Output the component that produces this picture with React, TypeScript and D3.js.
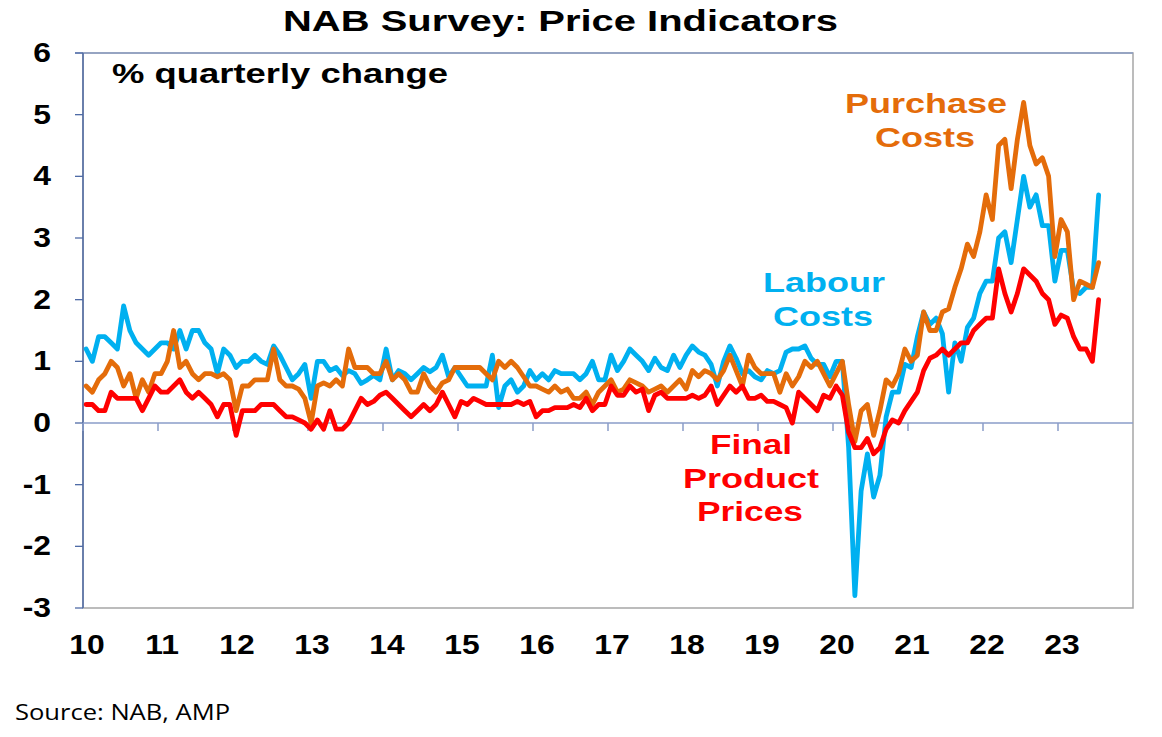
import React from 'react';
import * as d3 from 'd3';

// Monthly observations, Jan 2010 .. Jul 2023 (% quarterly change)
const START_YEAR = 2010;

const labourCosts: number[] = [
  1.2, 1.0, 1.4, 1.4, 1.3, 1.2, 1.9, 1.5, 1.3, 1.2,
  1.1, 1.2, 1.3, 1.3, 1.2, 1.5, 1.2, 1.5, 1.5, 1.3,
  1.2, 0.8, 1.2, 1.1, 0.9, 1.0, 1.0, 1.1, 1.0, 0.95,
  1.25, 1.1, 0.9, 0.7, 0.8, 0.95, 0.4, 1.0, 1.0, 0.85,
  0.9, 0.77, 0.85, 0.8, 0.64, 0.7, 0.77, 0.7, 1.2, 0.7,
  0.85, 0.8, 0.7, 0.8, 0.9, 0.83, 0.9, 1.1, 0.75, 0.9,
  0.75, 0.6, 0.6, 0.6, 0.6, 1.1, 0.25, 0.6, 0.7, 0.5,
  0.6, 0.85, 0.7, 0.8, 0.7, 0.85, 0.8, 0.8, 0.8, 0.7,
  0.8, 1.0, 0.7, 0.7, 1.1, 0.85, 1.0, 1.2, 1.1, 1.0,
  0.85, 1.05, 0.9, 0.85, 1.1, 0.9, 1.1, 1.25, 1.15, 1.1,
  0.95, 0.6, 1.0, 1.25, 1.05, 0.8, 0.85, 0.75, 0.7, 0.85,
  0.8, 0.85, 1.15, 1.2, 1.2, 1.25, 1.05, 0.95, 0.95, 0.75,
  1.0, 1.0, -0.4, -2.8, -1.1, -0.5, -1.2, -0.85, 0.1, 0.5,
  0.5, 0.95, 0.9, 1.4, 1.8, 1.6, 1.7, 1.45, 0.5, 1.3,
  1.0, 1.55, 1.7, 2.1, 2.3, 2.3, 3.0, 3.1, 2.6, 3.3,
  4.0, 3.5, 3.7, 3.2, 3.2, 2.3, 2.8, 2.8, 2.15, 2.1,
  2.2, 2.2, 3.7,
];

const purchaseCosts: number[] = [
  0.6, 0.5, 0.7, 0.8, 1.0, 0.9, 0.6, 0.8, 0.4, 0.7,
  0.5, 0.8, 0.8, 1.0, 1.5, 0.9, 1.0, 0.8, 0.7, 0.8,
  0.8, 0.75, 0.8, 0.7, 0.2, 0.6, 0.6, 0.7, 0.7, 0.7,
  1.2, 0.7, 0.6, 0.6, 0.55, 0.4, 0.0, 0.6, 0.65, 0.6,
  0.7, 0.6, 1.2, 0.9, 0.9, 0.9, 0.8, 0.8, 1.0, 0.7,
  0.8, 0.7, 0.5, 0.5, 0.8, 0.6, 0.5, 0.65, 0.7, 0.9,
  0.9, 0.9, 0.9, 0.9, 0.8, 0.7, 1.0, 0.9, 1.0, 0.9,
  0.75, 0.6, 0.6, 0.55, 0.5, 0.6, 0.5, 0.55, 0.4, 0.4,
  0.5, 0.3, 0.5, 0.6, 0.7, 0.5, 0.55, 0.7, 0.65, 0.6,
  0.5, 0.55, 0.6, 0.5, 0.6, 0.7, 0.55, 0.85, 0.75, 0.85,
  0.8, 0.7, 0.85, 1.1, 0.85, 0.6, 1.1, 0.9, 0.8, 0.8,
  0.8, 0.5, 0.8, 0.6, 0.75, 1.0, 0.9, 1.0, 0.8, 0.6,
  0.8, 1.0, 0.3, -0.3, 0.2, 0.3, -0.2, 0.2, 0.7, 0.6,
  0.8, 1.2, 1.0, 1.1, 1.8, 1.5, 1.5, 1.8, 1.85, 2.2,
  2.5, 2.9, 2.7, 3.1, 3.7, 3.3, 4.5, 4.6, 3.8, 4.6,
  5.2, 4.5, 4.2, 4.3, 4.0, 2.7, 3.3, 3.1, 2.0, 2.3,
  2.25, 2.2, 2.6,
];

const finalPrices: number[] = [
  0.3, 0.3, 0.2, 0.2, 0.5, 0.4, 0.4, 0.4, 0.4, 0.2,
  0.4, 0.6, 0.5, 0.5, 0.6, 0.7, 0.5, 0.4, 0.5, 0.4,
  0.3, 0.1, 0.3, 0.3, -0.2, 0.2, 0.2, 0.2, 0.3, 0.3,
  0.3, 0.2, 0.1, 0.1, 0.05, 0.0, -0.1, 0.05, -0.1, 0.2,
  -0.1, -0.1, 0.0, 0.2, 0.4, 0.3, 0.35, 0.45, 0.5, 0.4,
  0.3, 0.2, 0.1, 0.2, 0.3, 0.2, 0.3, 0.5, 0.3, 0.1,
  0.35, 0.3, 0.4, 0.35, 0.3, 0.3, 0.3, 0.3, 0.3, 0.35,
  0.3, 0.35, 0.1, 0.2, 0.2, 0.25, 0.25, 0.25, 0.3, 0.25,
  0.4, 0.2, 0.3, 0.3, 0.6, 0.45, 0.45, 0.6, 0.5, 0.55,
  0.2, 0.45, 0.5, 0.4, 0.4, 0.4, 0.4, 0.45, 0.4, 0.45,
  0.6, 0.3, 0.45, 0.6, 0.5, 0.6, 0.4, 0.4, 0.45, 0.35,
  0.35, 0.3, 0.25, 0.0, 0.5, 0.4, 0.3, 0.2, 0.45, 0.4,
  0.6, 0.45, -0.15, -0.4, -0.4, -0.25, -0.5, -0.4, -0.1, 0.05,
  0.0, 0.2, 0.35, 0.5, 0.85, 1.05, 1.1, 1.2, 1.1, 1.2,
  1.3, 1.3, 1.5, 1.6, 1.7, 1.7, 2.5, 2.1, 1.8, 2.1,
  2.5, 2.4, 2.3, 2.1, 2.0, 1.6, 1.75, 1.7, 1.4, 1.2,
  1.2, 1.0, 2.0,
];

const yTicks: number[] = [6, 5, 4, 3, 2, 1, 0, -1, -2, -3];
const xYears: number[] = [2010, 2011, 2012, 2013, 2014, 2015, 2016, 2017, 2018, 2019, 2020, 2021, 2022, 2023];
const xLabels: string[] = ['10', '11', '12', '13', '14', '15', '16', '17', '18', '19', '20', '21', '22', '23'];

const BLUE = '#00B0F0';
const ORANGE = '#E46C0A';
const RED = '#FF0000';
const FONT = "'Liberation Sans', Arial, sans-serif";

type Lbl = { text: string; x: number; y: number; w: number; color: string };
const seriesLabels: Lbl[] = [
  { text: 'Purchase', x: 845, y: 113, w: 162, color: ORANGE },
  { text: 'Costs', x: 875, y: 147, w: 100, color: ORANGE },
  { text: 'Labour', x: 763, y: 292, w: 122, color: BLUE },
  { text: 'Costs', x: 773, y: 326, w: 100, color: BLUE },
  { text: 'Final', x: 710, y: 454, w: 82, color: RED },
  { text: 'Product', x: 683, y: 488, w: 136, color: RED },
  { text: 'Prices', x: 697, y: 521, w: 106, color: RED },
];

export default function App() {
  const W = 1162;
  const H = 737;
  const left = 83;
  const right = 1133;
  const top = 53;
  const bottom = 608;

  const x = d3.scaleLinear().domain([2010, 2024]).range([left, right]);
  const y = d3.scaleLinear().domain([-3, 6]).range([bottom, top]);
  const t = (i: number) => START_YEAR + (i + 0.5) / 12;

  const line = d3
    .line<number>()
    .x((_d, i) => x(t(i)))
    .y((d) => y(d));

  const series = [
    { data: labourCosts, color: BLUE },
    { data: purchaseCosts, color: ORANGE },
    { data: finalPrices, color: RED },
  ];

  return (
    <svg
      width={W}
      height={H}
      style={{ position: 'absolute', left: 0, top: 0, background: '#fff' }}
    >
      <rect x={0} y={0} width={W} height={H} fill="#fff" />
      {/* plot border */}
      <rect x={left} y={top} width={right - left} height={bottom - top} fill="none" stroke="#A6A6A6" strokeWidth={1.5} />
      <line x1={left - 8} x2={right} y1={top} y2={top} stroke="#8A9CC4" strokeWidth={1.3} />
      {/* left axis */}
      <line x1={left} x2={left} y1={top} y2={bottom} stroke="#4F6BA6" strokeWidth={1.5} />
      {yTicks.map((v) => (
        <line key={'yt' + v} x1={left - 8} x2={left} y1={y(v)} y2={y(v)} stroke="#4F6BA6" strokeWidth={1.3} />
      ))}
      {yTicks.map((v) => (
        <text
          key={'yl' + v}
          transform={`translate(51,${y(v) + 9}) scale(1.18,1)`}
          textAnchor="end"
          fontFamily={FONT}
          fontWeight="bold"
          fontSize={27}
          fill="#000"
        >
          {v}
        </text>
      ))}
      {/* zero axis with year ticks */}
      <line x1={left} x2={right} y1={y(0)} y2={y(0)} stroke="#8A9CC8" strokeWidth={1.5} />
      {xYears.map((yr) => (
        <line key={'xt' + yr} x1={x(yr)} x2={x(yr)} y1={y(0)} y2={y(0) + 8} stroke="#8A9CC8" strokeWidth={1.5} />
      ))}
      {xYears.map((yr, i) => (
        <text
          key={'xl' + yr}
          transform={`translate(${x(yr) + 4},654) scale(1.18,1)`}
          textAnchor="middle"
          fontFamily={FONT}
          fontWeight="bold"
          fontSize={27}
          fill="#000"
        >
          {xLabels[i]}
        </text>
      ))}

      {/* series */}
      {series.map((s, i) => (
        <path
          key={'s' + i}
          d={line(s.data) || ''}
          fill="none"
          stroke={s.color}
          strokeWidth={4.8}
          strokeLinejoin="round"
          strokeLinecap="round"
        />
      ))}

      {/* title */}
      <text
        x={283}
        y={31}
        textLength={555}
        lengthAdjust="spacingAndGlyphs"
        fontFamily={FONT}
        fontWeight="bold"
        fontSize={29}
        fill="#000"
      >
        NAB Survey: Price Indicators
      </text>
      <text
        x={112}
        y={83}
        textLength={336}
        lengthAdjust="spacingAndGlyphs"
        fontFamily={FONT}
        fontWeight="bold"
        fontSize={27}
        fill="#000"
      >
        % quarterly change
      </text>

      {/* series labels */}
      {seriesLabels.map((l, i) => (
        <text
          key={'lbl' + i}
          x={l.x}
          y={l.y}
          textLength={l.w}
          lengthAdjust="spacingAndGlyphs"
          fontFamily={FONT}
          fontWeight="bold"
          fontSize={28}
          fill={l.color}
        >
          {l.text}
        </text>
      ))}

      <text
        x={15}
        y={720}
        textLength={215}
        lengthAdjust="spacingAndGlyphs"
        fontFamily="'Open Sans', 'Noto Sans', sans-serif"
        fontSize={22}
        fill="#000"
      >
        Source: NAB, AMP
      </text>
    </svg>
  );
}
